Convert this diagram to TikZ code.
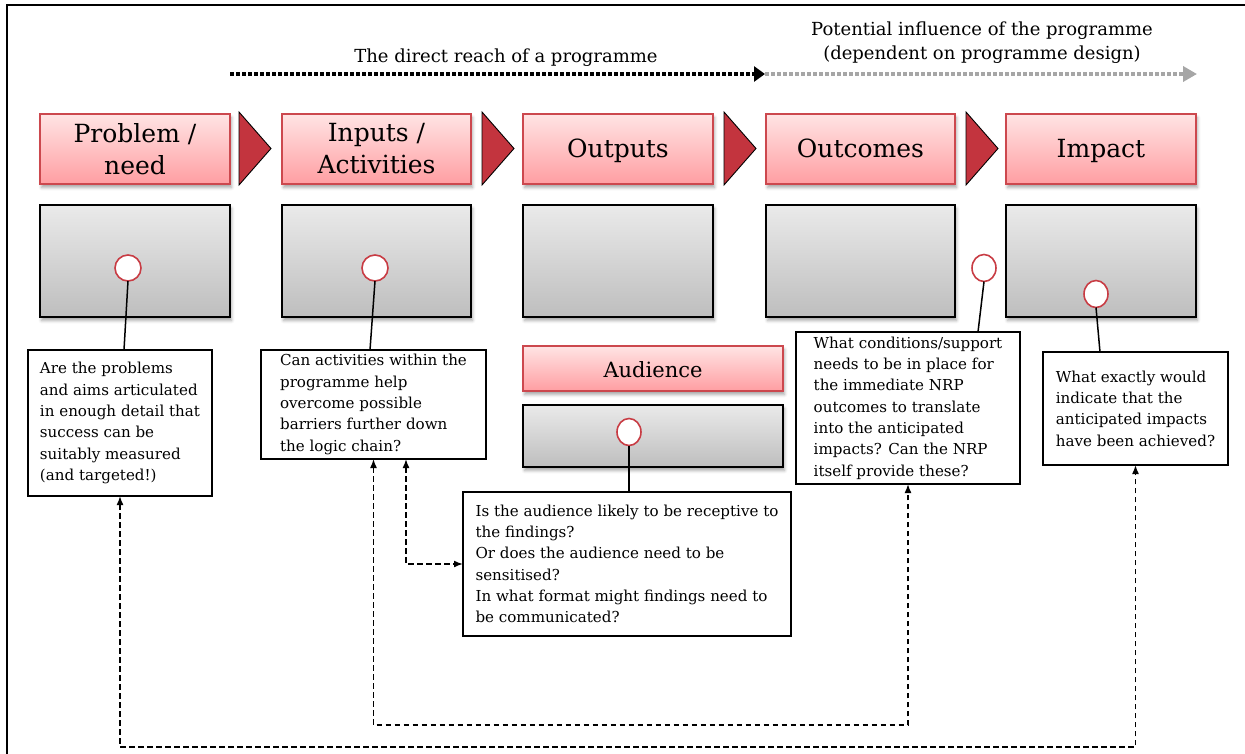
\documentclass[tikz,border=0pt]{standalone}
\usepackage{fontspec}
\setmainfont{DejaVu Serif}
\usetikzlibrary{arrows.meta,shadows.blur,calc,shapes.geometric}

\definecolor{hdrline}{RGB}{204,72,78}
\definecolor{hdrtop}{RGB}{255,228,228}
\definecolor{hdrbot}{RGB}{255,158,162}
\definecolor{chevred}{RGB}{195,52,62}
\definecolor{greytop}{RGB}{234,234,234}
\definecolor{greybot}{RGB}{190,190,190}
\definecolor{pinred}{RGB}{200,60,68}
\definecolor{influence}{RGB}{166,166,166}

\begin{document}
\begin{tikzpicture}[x=1pt,y=-1pt,
  softshadow/.style={blur shadow={shadow xshift=1.5pt,shadow yshift=-3.5pt,
      shadow blur radius=3pt,shadow opacity=35}},
  hdr/.style={draw=hdrline,line width=1.6pt,top color=hdrtop,bottom color=hdrbot,
      anchor=north west,outer sep=0pt,inner sep=2pt,align=center,
      minimum height=70pt,font=\fontsize{25}{32}\selectfont,softshadow},
  oneline/.style={text height=22pt,text depth=6pt},
  greybox/.style={draw=black,line width=1.8pt,top color=greytop,bottom color=greybot,
      anchor=north west,outer sep=0pt,minimum height=112pt,softshadow},
  pinc/.style={circle,draw=pinred,fill=white,line width=1.6pt,
      minimum size=26pt,inner sep=0pt,outer sep=0pt},
  pine/.style={ellipse,draw=pinred,fill=white,line width=1.6pt,
      minimum width=24pt,minimum height=27pt,inner sep=0pt,outer sep=0pt},
  qbox/.style={draw=black,line width=1.8pt,fill=white,anchor=north west,
      outer sep=0pt,inner sep=0pt,align=left,
      font=\fontsize{15.1}{21.3}\selectfont},
  chev/.style={draw=black,line width=0.9pt,fill=chevred},
  pinline/.style={draw=black,line width=1.5pt},
  feedback/.style={draw=black,line width=1.6pt,dash pattern=on 5.5pt off 3.5pt,
      {Latex[length=9pt,width=7pt]}-{Latex[length=9pt,width=7pt]}},
  reach/.style={draw=black,line width=4.2pt,dash pattern=on 3.5pt off 2.5pt,
      -{Triangle[length=11pt,width=15pt]}},
  infl/.style={draw=influence,line width=3.6pt,dash pattern=on 3.5pt off 2.5pt,
      -{Triangle[length=14pt,width=15pt]}},
  toptext/.style={align=center,font=\fontsize{18}{24}\selectfont}
]
\useasboundingbox (0,0) rectangle (1245,753);

% frame around the figure
\draw[line width=2.4pt] (1246,5) -- (7,5) -- (7,754);

% reach of the programme
\coordinate (r0) at (230,74);
\coordinate (r1) at (765,74);
\coordinate (r2) at (1197,74);
\draw[infl] (r1) -- (r2);
\draw[reach] (r0) -- (r1);
\node[toptext] (treach) at (506,58) {The direct reach of a programme};
\node[toptext] (tinfl) at (982,43) {Potential influence of the programme\\(dependent on programme design)};

% chevrons between the stages
\foreach \cx in {239,482,724,966}
  \draw[chev] (\cx,112) -- (\cx+32,148.5) -- (\cx,185) -- cycle;

% stage headers
\node[hdr,minimum width=190pt] (h1) at (40,114) {Problem /\\need};
\node[hdr,minimum width=189pt] (h2) at (282,114) {Inputs /\\Activities};
\node[hdr,oneline,minimum width=190pt] (h3) at (523,114) {Outputs};
\node[hdr,oneline,minimum width=189pt] (h4) at (766,114) {Outcomes};
\node[hdr,oneline,minimum width=190pt] (h5) at (1006,114) {Impact};

% grey content boxes
\node[greybox,minimum width=190pt] (g1) at (40,205) {};
\node[greybox,minimum width=189pt] (g2) at (282,205) {};
\node[greybox,minimum width=190pt] (g3) at (523,205) {};
\node[greybox,minimum width=189pt] (g4) at (766,205) {};
\node[greybox,minimum width=190pt] (g5) at (1006,205) {};

% audience
\node[hdr,minimum width=260pt,minimum height=45pt,text height=22pt,text depth=5pt,
      font=\fontsize{21}{26}\selectfont] (ha) at (523,346) {Audience};
\node[greybox,minimum width=260pt,minimum height=62pt] (ga) at (523,405) {};

% questions
\node[qbox,minimum width=184pt,minimum height=146pt] (qa) at (28,350)
  {Are the problems\\and aims articulated\\in enough detail that\\success can be\\suitably measured\\(and targeted!)};
\node[qbox,minimum width=225pt,minimum height=109pt] (qb) at (261,350)
  {Can activities within the\\programme help\\overcome possible\\barriers further down\\the logic chain?};
\node[qbox,minimum width=328pt,minimum height=144pt] (qc) at (463,492)
  {Is the audience likely to be receptive to\\the findings?\\Or does the audience need to be\\sensitised?\\In what format might findings need to\\be communicated?};
\node[qbox,minimum width=224pt,minimum height=152pt] (qd) at (796,332)
  {What conditions/support\\needs to be in place for\\the immediate NRP\\outcomes to translate\\into the anticipated\\impacts? Can the NRP\\itself provide these?};
\node[qbox,minimum width=185pt,minimum height=113pt] (qe) at (1043,352)
  {What exactly would\\indicate that the\\anticipated impacts\\have been achieved?};

% pins
\node[pinc] (p1) at (128,268) {};
\node[pinc] (p2) at (375,268) {};
\node[pine] (pa) at (629,432) {};
\node[pine] (p4) at (984,268) {};
\node[pine] (p5) at (1096,294) {};

\draw[pinline] (p1.south) -- ($(qa.north)+(4,0)$);
\draw[pinline] (p2.south) -- ($(qb.north)+(-3.5,0)$);
\draw[pinline] (pa.south) -- ($(qc.north)+(2,0)$);
\draw[pinline] (p4.south) -- ($(qd.north)+(70,0)$);
\draw[pinline] (p5.south) -- ($(qe.north)+(-35.5,0)$);

% feedback loops
\coordinate (loopA) at (0,747);
\coordinate (loopB) at (0,725);
\coordinate (loopC) at (406,0);
\draw[feedback] (qa.south) -- (qa.south |- loopA) -| (qe.south);
\draw[feedback] (qb.south) -- (qb.south |- loopB) -| (qd.south);
\draw[feedback] (qb.south -| loopC) |- (qc.west);
\end{tikzpicture}
\end{document}
